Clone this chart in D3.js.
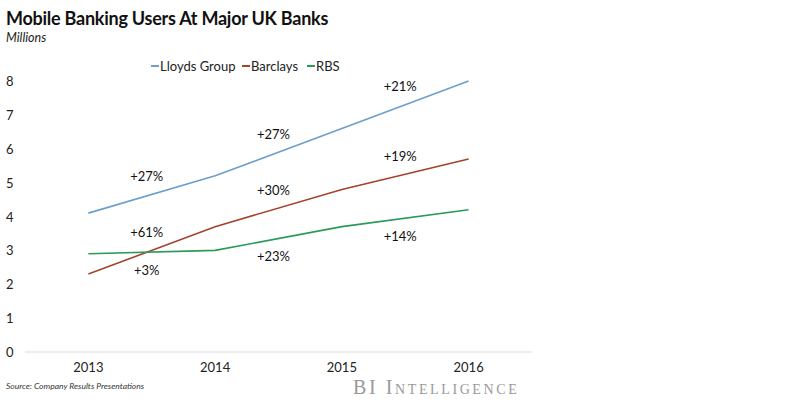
<!DOCTYPE html>
<html>
<head>
<meta charset="utf-8">
<script src="https://cdn.jsdelivr.net/npm/d3@7"></script>
<style>
  body { margin: 0; background: #fff; }
  svg { display: block; font-family: Lato, "Open Sans", sans-serif; }
</style>
</head>
<body>
<svg width="800" height="400"></svg>
<script>
const years = ["2013", "2014", "2015", "2016"];
const yTicks = [0, 1, 2, 3, 4, 5, 6, 7, 8];
const seriesNames = ["Lloyds Group", "Barclays", "RBS"];
const lloyds = [4.1, 5.2, 6.6, 8.0];
const barclays = [2.3, 3.7, 4.8, 5.7];
const rbs = [2.9, 3.0, 3.7, 4.2];
const lloydsGrowth = ["+27%", "+27%", "+21%"];
const barclaysGrowth = ["+61%", "+30%", "+19%"];
const rbsGrowth = ["+3%", "+23%", "+14%"];

const colors = ["#6b9fcc", "#a3432b", "#2b9a58"];
const series = [
  { name: seriesNames[0], values: lloyds, growth: lloydsGrowth, side: -1 },
  { name: seriesNames[1], values: barclays, growth: barclaysGrowth, side: -1 },
  { name: seriesNames[2], values: rbs, growth: rbsGrowth, side: 1 }
];

const svg = d3.select("svg");

const scX = d3.scaleBand().domain(years).range([25, 532]);
const scY = d3.scaleLinear().domain([0, 8]).range([352, 81]);
const cx = d => scX(d) + scX.bandwidth() / 2;

// title
svg.append("text").attr("x", 6).attr("y", 25)
  .style("font-size", "18px").style("font-weight", "bold").style("fill", "#111")
  .style("letter-spacing", "-0.25px")
  .text("Mobile Banking Users At Major UK Banks");
svg.append("text").attr("x", 6).attr("y", 42)
  .style("font-size", "12.5px").style("font-style", "italic").style("fill", "#222")
  .text("Millions");

// axis line
svg.append("line")
  .attr("x1", 25).attr("x2", 532)
  .attr("y1", scY(0)).attr("y2", scY(0))
  .style("stroke", "#d9d9d9").style("stroke-width", 1);

// y tick labels
svg.selectAll(".ytick")
  .data(yTicks)
  .enter().append("text")
  .attr("x", 6)
  .attr("y", d => scY(d) + 5)
  .style("font-size", "13px").style("fill", "#222")
  .text(d => d);

// x tick labels
svg.selectAll(".xtick")
  .data(years)
  .enter().append("text")
  .attr("x", d => cx(d))
  .attr("y", 372)
  .attr("text-anchor", "middle")
  .style("font-size", "13px").style("fill", "#222")
  .text(d => d);

// lines
const line = d3.line()
  .x((d, i) => cx(years[i]))
  .y(d => scY(d));

series.forEach((s, k) => {
  svg.append("path")
    .datum(s.values)
    .attr("d", line)
    .style("fill", "none")
    .style("stroke", colors[k])
    .style("stroke-width", 1.6);

  s.growth.forEach((g, i) => {
    const mx = (cx(years[i]) + cx(years[i + 1])) / 2 - 5;
    const my = scY((s.values[i] + s.values[i + 1]) / 2) + s.side * 18;
    svg.append("text")
      .attr("x", mx).attr("y", my + 4.5)
      .attr("text-anchor", "middle")
      .style("font-size", "13px").style("fill", "#111")
      .text(g);
  });
});

// legend
const legendX = [151, 242, 307];
series.forEach((s, k) => {
  const g = svg.append("g").attr("transform", `translate(${legendX[k]}, 66)`);
  g.append("line").attr("x1", 0).attr("x2", 8).attr("y1", 0).attr("y2", 0)
    .style("stroke", colors[k]).style("stroke-width", 2);
  g.append("text").attr("x", 9).attr("y", 4.5)
    .style("font-size", "13px").style("fill", "#222")
    .text(s.name);
});

// footer
svg.append("text").attr("x", 6).attr("y", 389)
  .style("font-size", "8.5px").style("font-style", "italic").style("fill", "#333")
  .text("Source: Company Results Presentations");
svg.append("text").attr("x", 353).attr("y", 394)
  .style("font-family", "'Liberation Serif', 'DejaVu Serif', serif")
  .style("font-size", "20px").style("font-variant", "small-caps")
  .style("fill", "#9a9a9a").style("letter-spacing", "2.6px")
  .text("BI Intelligence");
</script>
</body>
</html>
